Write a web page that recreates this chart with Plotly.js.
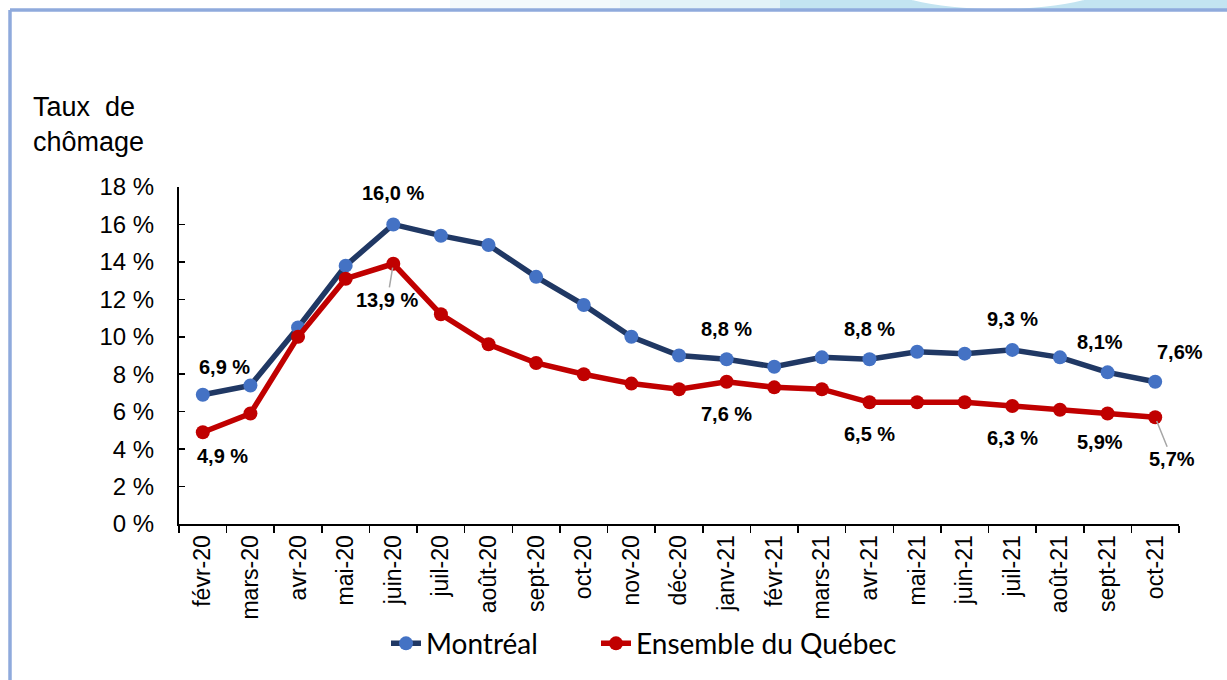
<!DOCTYPE html>
<html>
<head>
<meta charset="utf-8">
<script src="https://cdn.plot.ly/plotly-3.0.1.min.js"></script>
<style>
  html, body { margin: 0; padding: 0; background: #fff; }
  #chart { width: 1227px; height: 680px; }
</style>
</head>
<body>
<div id="chart"></div>
<script>
const months = ['févr-20', 'mars-20', 'avr-20', 'mai-20', 'juin-20', 'juil-20', 'août-20',
  'sept-20', 'oct-20', 'nov-20', 'déc-20', 'janv-21', 'févr-21', 'mars-21', 'avr-21',
  'mai-21', 'juin-21', 'juil-21', 'août-21', 'sept-21', 'oct-21'];
const montreal = [6.9, 7.4, 10.5, 13.8, 16.0, 15.4, 14.9, 13.2, 11.7, 10.0, 9.0,
  8.8, 8.4, 8.9, 8.8, 9.2, 9.1, 9.3, 8.9, 8.1, 7.6];
const quebec = [4.9, 5.9, 10.0, 13.1, 13.9, 11.2, 9.6, 8.6, 8.0, 7.5, 7.2,
  7.6, 7.3, 7.2, 6.5, 6.5, 6.5, 6.3, 6.1, 5.9, 5.7];
const yTicks = [0, 2, 4, 6, 8, 10, 12, 14, 16, 18];

// which points get a label, and the label text
const mtlLabels = { 0: '6,9 %', 4: '16,0 %', 11: '8,8 %', 14: '8,8 %', 17: '9,3 %', 19: '8,1%', 20: '7,6%' };
const qcLabels = { 0: '4,9 %', 4: '13,9 %', 11: '7,6 %', 14: '6,5 %', 17: '6,3 %', 19: '5,9%', 20: '5,7%' };

// pixel offsets of the labels
const mtlShift = { 0: [22, 28], 4: [0, 31], 11: [0, 30], 14: [0, 30], 17: [0, 31], 19: [-8, 30], 20: [25, 30] };
const qcShift = { 0: [20, -24], 11: [0, -32], 14: [0, -32], 17: [0, -32], 19: [-8, -28] };

const labelFont = { family: 'Liberation Sans, Arial, sans-serif', size: 20, color: '#000' };

const annotations = [];
for (const [i, t] of Object.entries(mtlLabels)) {
  const [dx, dy] = mtlShift[i];
  annotations.push({ x: months[i], y: montreal[i], text: '<b>' + t + '</b>', showarrow: false,
    xshift: dx, yshift: dy, font: labelFont });
}
for (const [i, t] of Object.entries(qcLabels)) {
  if (i == 4 || i == 20) continue;
  const [dx, dy] = qcShift[i];
  annotations.push({ x: months[i], y: quebec[i], text: '<b>' + t + '</b>', showarrow: false,
    xshift: dx, yshift: dy, font: labelFont });
}
// labels with leader lines
annotations.push({ x: months[4], y: quebec[4], text: '<b>' + qcLabels[4] + '</b>', showarrow: true,
  arrowhead: 0, arrowwidth: 1.5, arrowcolor: '#a6a6a6', ax: -6, ay: 36, standoff: 4, font: labelFont });
annotations.push({ x: months[20], y: quebec[20], text: '<b>' + qcLabels[20] + '</b>', showarrow: true,
  arrowhead: 0, arrowwidth: 1.5, arrowcolor: '#a6a6a6', ax: 17, ay: 42, standoff: 4, font: labelFont });

// y axis title
annotations.push({ xref: 'paper', yref: 'paper', x: -0.091, y: 1.186, xanchor: 'center', yanchor: 'middle',
  text: 'Taux  de<br>chômage', showarrow: false, align: 'left',
  font: { family: 'Liberation Sans, Arial, sans-serif', size: 27, color: '#000' } });

const px = v => (v - 179) / 1000;
const py = v => (524 - v) / 337;

const shapes = [
  // top decoration band
  { type: 'rect', xref: 'paper', yref: 'paper', x0: px(450), x1: px(620), y0: py(9), y1: py(-5),
    fillcolor: '#f3f9fc', line: { width: 0 }, layer: 'below' },
  { type: 'rect', xref: 'paper', yref: 'paper', x0: px(620), x1: px(780), y0: py(9), y1: py(-5),
    fillcolor: '#e2f2f8', line: { width: 0 }, layer: 'below' },
  { type: 'rect', xref: 'paper', yref: 'paper', x0: px(780), x1: px(1240), y0: py(9), y1: py(-5),
    fillcolor: '#c3e4f1', line: { width: 0 }, layer: 'below' },
  { type: 'circle', xref: 'paper', yref: 'paper', x0: px(878), x1: px(1118), y0: py(9), y1: py(-50),
    fillcolor: '#ffffff', line: { width: 0 }, layer: 'below' },
  // frame
  { type: 'line', xref: 'paper', yref: 'paper', x0: px(10), x1: px(1240), y0: py(10), y1: py(10),
    line: { color: '#8faadc', width: 3.5 } },
  { type: 'line', xref: 'paper', yref: 'paper', x0: px(10), x1: px(10), y0: py(10), y1: py(690),
    line: { color: '#8faadc', width: 3.5 } }
];

const data = [
  { x: months, y: montreal, name: 'Montréal', type: 'scatter', mode: 'lines+markers', legend: 'legend',
    line: { color: '#203864', width: 5.5 }, marker: { color: '#4472c4', size: 14 } },
  { x: months, y: quebec, name: 'Ensemble du Québec', type: 'scatter', mode: 'lines+markers', legend: 'legend2',
    line: { color: '#c00000', width: 5.5 }, marker: { color: '#c00000', size: 14 } }
];

const legendFont = { family: 'Lato, Carlito, sans-serif', size: 28, color: '#000' };

const layout = {
  width: 1227, height: 680,
  margin: { l: 179, r: 48, t: 187, b: 156 },
  paper_bgcolor: '#fff', plot_bgcolor: '#fff',
  showlegend: true,
  legend: { orientation: 'h', x: px(386), xanchor: 'left', y: -0.355, yanchor: 'middle',
    font: legendFont, bgcolor: 'rgba(0,0,0,0)' },
  legend2: { orientation: 'h', x: px(596), xanchor: 'left', y: -0.355, yanchor: 'middle',
    font: legendFont, bgcolor: 'rgba(0,0,0,0)' },
  xaxis: { type: 'category', range: [-0.5, 20.5], tickangle: -90, showgrid: false, zeroline: false,
    showline: true, linecolor: '#000', linewidth: 2, ticks: 'outside', tickson: 'boundaries',
    ticklen: 7, tickcolor: '#000', tickwidth: 1.5, fixedrange: true,
    tickfont: { family: 'Liberation Sans, Arial, sans-serif', size: 23, color: '#000' } },
  yaxis: { range: [0, 18], tickvals: yTicks, ticktext: yTicks.map(v => v + ' %'), showgrid: false,
    zeroline: false, showline: true, linecolor: '#000', linewidth: 2, ticks: 'inside', ticklen: 6,
    tickcolor: '#000', tickwidth: 1.5, fixedrange: true, ticklabelstandoff: 18,
    tickfont: { family: 'Liberation Sans, Arial, sans-serif', size: 24, color: '#000' } },
  annotations: annotations,
  shapes: shapes
};

Plotly.newPlot('chart', data, layout, { displayModeBar: false, staticPlot: true });
</script>
</body>
</html>
